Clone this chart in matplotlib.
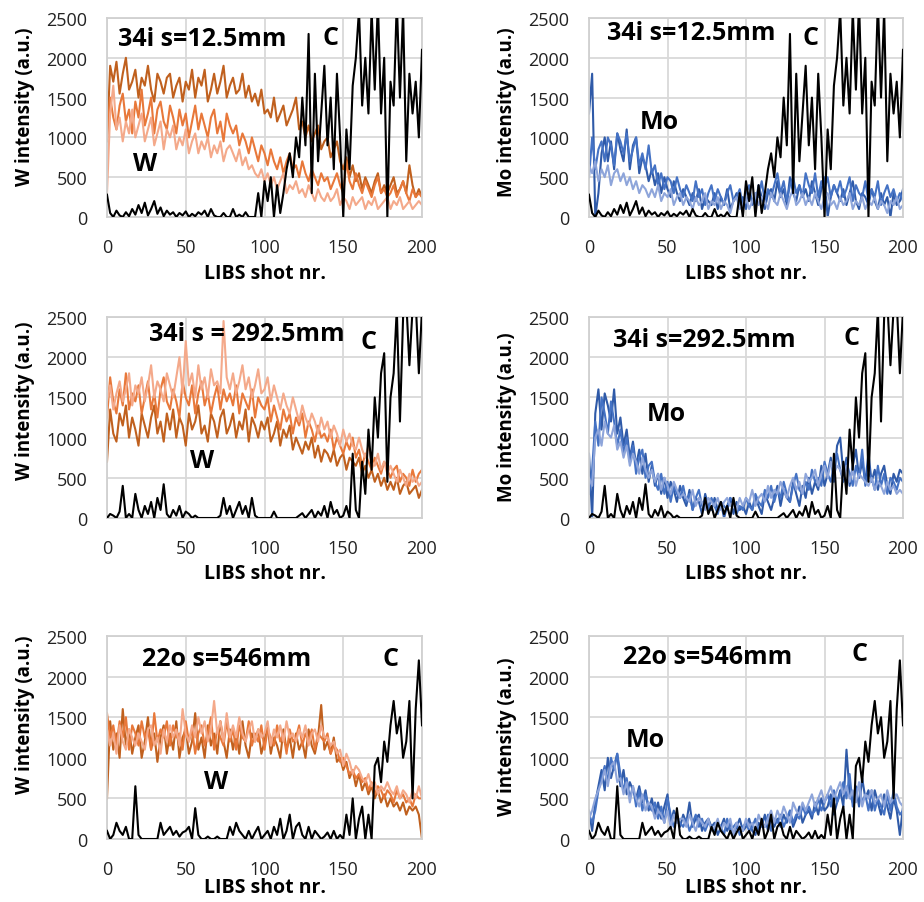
import matplotlib
matplotlib.use("Agg")
import matplotlib.pyplot as plt

plt.rcParams['font.family'] = ['Open Sans', 'DejaVu Sans']

# LIBS shot numbers (every 2nd shot sampled)
shots = list(range(0, 201, 2))

# ---------------- Row 1: 34i s=12.5mm ----------------
tl_w_dark = [950,1900,1700,1950,1550,1800,2000,1600,1700,1850,
             1500,1750,1650,1900,1600,1450,1800,1700,1550,1750,
             1800,1500,1650,1750,1450,1700,1600,1850,1500,1750,
             1650,1850,1450,1600,1800,1550,1700,1900,1500,1650,
             1750,1550,1600,1800,1500,1650,1450,1550,1400,1600,
             1300,1350,1250,1500,1200,1300,1400,1150,1250,1350,
             1500,1100,1200,1000,1150,950,1050,1150,850,950,
             1000,750,850,950,700,600,750,500,650,450,
             550,350,500,400,300,450,550,300,400,300,
             400,500,300,350,450,300,650,400,250,350,
             250]
tl_w_mid = [1000,1500,1250,1100,1400,1550,1200,1350,1050,1450,
            1250,1600,1150,1300,1500,1050,1350,1450,1200,1100,
            1400,1250,1050,1350,1150,1300,1000,1200,1400,1100,
            1300,1150,1000,1250,1350,1050,1200,950,1300,1150,
            1050,1150,900,1050,950,800,1000,850,700,900,
            800,650,850,700,600,750,550,700,800,600,
            650,500,700,550,450,600,500,400,550,450,
            500,350,450,550,400,300,700,450,350,550,
            400,300,450,350,250,400,500,300,350,250,
            300,400,250,350,450,300,200,350,250,300,
            250]
tl_w_light = [300,1300,1650,1100,1250,950,1200,1050,1350,1000,
              1150,1300,950,1100,1250,900,1050,1200,850,1100,
              1000,1150,850,1000,900,1100,800,950,1050,800,
              950,850,1000,750,900,800,950,700,850,900,
              800,700,850,650,750,600,650,550,500,600,
              450,550,400,500,350,450,550,300,400,350,
              450,300,350,250,400,300,200,350,250,200,
              300,200,250,350,150,250,200,100,250,150,
              200,250,100,200,150,250,100,150,200,250,
              100,200,150,250,100,150,200,100,150,200,
              150]
row1_c = [280,50,0,80,20,0,60,10,100,30,
          150,50,180,20,100,200,40,120,10,80,
          30,60,0,50,20,70,0,40,10,60,
          30,80,0,100,20,0,0,50,0,0,
          100,0,30,0,60,0,0,0,300,0,
          450,200,500,0,400,50,300,600,800,500,
          1000,750,1500,900,2300,300,1800,700,1300,1900,
          900,1500,600,1800,1000,0,1100,600,1650,2000,
          2600,1400,2000,1300,2600,1600,2700,1300,2000,0,
          1700,1400,2700,1500,2600,700,1800,1300,1700,1000,
          2100]
tr_mo_dark = [1300,1800,0,300,800,1000,700,950,600,1050,
              850,700,1100,600,900,1000,550,750,650,450,
              600,400,550,300,500,350,250,450,300,200,
              350,250,150,300,200,350,100,250,200,150,
              300,100,250,150,350,100,200,300,150,250,
              100,300,200,150,400,250,100,300,350,200,
              450,250,350,150,500,300,200,400,250,350,
              200,450,300,150,350,500,0,250,400,300,
              200,350,150,300,450,200,100,300,250,150,
              350,200,100,300,150,250,0,300,150,200,
              350]
tr_mo_mid = [500,1000,600,850,950,700,1000,900,650,1050,
             950,800,1050,700,850,1000,650,800,600,900,
             550,650,400,550,350,500,450,300,500,350,
             250,400,300,200,450,250,350,150,300,400,
             200,350,250,150,300,400,200,250,350,150,
             300,400,150,300,250,450,200,350,250,400,
             550,300,450,200,400,500,300,400,250,550,
             400,300,550,250,450,350,500,250,400,300,
             450,250,350,500,200,400,300,250,450,200,
             350,250,450,150,300,400,250,350,200,300,
             200]
tr_mo_light = [650,550,700,450,600,500,650,400,550,600,
               450,550,400,500,350,450,300,400,350,250,
               350,250,400,200,300,250,350,150,250,300,
               150,250,200,100,250,150,200,300,100,200,
               150,250,100,200,150,50,200,250,100,150,
               250,100,200,300,150,250,200,100,300,200,
               150,300,200,100,250,350,150,200,300,150,
               250,150,300,200,100,250,300,150,200,100,
               250,150,200,300,100,200,150,250,100,200,
               150,250,100,200,150,50,200,150,250,100,
               150]

# ---------------- Row 2: 34i s=292.5mm ----------------
ml_w_dark = [700,1350,1050,950,1300,1150,1400,1000,1250,1100,
             900,1300,1150,1000,1250,1400,1050,1200,950,1300,
             1100,1350,1000,1250,1150,900,1300,1100,1200,1400,
             1050,1150,950,1300,1200,1000,1250,1350,1050,1150,
             1300,1000,1200,1100,1350,950,1250,1150,1000,1200,
             1100,1250,950,1050,1200,900,1100,1000,1150,850,
             1000,900,800,950,850,1000,750,900,700,850,
             800,700,850,650,750,800,600,750,700,650,
             750,550,650,500,600,450,550,400,500,350,
             450,350,500,300,400,450,300,350,400,250,
             350]
ml_w_mid = [1250,1750,1450,1300,1600,1400,1800,1350,1550,1450,
            1650,1300,1500,1700,1350,1550,1250,1600,1750,1450,
            1350,1600,1450,1250,1700,1500,1400,1650,1300,1550,
            1700,1400,1550,1300,1500,1650,1350,1600,1450,1550,
            1400,1650,1300,1550,1450,1350,1600,1250,1500,1400,
            1350,1500,1200,1400,1250,1100,1350,1200,1300,1050,
            1250,1150,1300,1000,1200,1100,950,1150,1000,1050,
            950,1100,850,1000,900,800,950,850,1000,750,
            850,650,800,700,600,750,650,550,700,600,
            500,600,650,450,550,500,400,600,450,550,
            600]
ml_w_light = [1450,1650,1350,1550,1700,1450,1600,1800,1400,1650,
              1550,1750,1450,1650,1900,1500,1700,1600,1450,1800,
              1650,1500,1750,2000,1550,2200,1650,1800,1500,1900,
              1600,1750,1500,1850,1650,1700,1550,2450,1750,1600,
              1800,1550,1700,1900,1600,1750,1500,1650,1850,1550,
              1600,1750,1450,1650,1500,1350,1550,1400,1300,1500,
              1350,1200,1400,1250,1150,1300,1200,1050,1250,1100,
              1200,1000,1150,1050,900,1100,950,1050,900,850,
              1000,850,750,900,700,650,800,600,700,550,
              650,550,450,600,500,400,550,450,500,400,
              450]
row2_c = [0,50,30,0,80,400,0,50,0,300,
          100,0,150,50,200,0,250,100,420,50,
          0,100,30,150,0,80,50,0,30,0,
          0,0,0,0,0,0,30,250,50,150,
          0,100,200,50,150,0,250,30,0,0,
          0,0,0,80,0,0,0,0,0,0,
          0,30,60,0,50,100,0,80,30,150,
          0,200,50,100,0,30,150,0,800,100,
          0,700,300,1100,600,1500,1000,1800,2050,450,
          1500,1800,2600,1200,2500,2700,1900,2600,2700,1800,
          2600]
mr_mo_dark = [800,0,1300,1600,1100,1550,1400,1200,1600,1050,
              1250,900,1100,750,950,650,850,550,800,450,
              650,400,550,300,500,250,450,350,200,400,
              250,150,350,100,250,200,50,300,150,100,
              250,100,200,0,150,250,50,200,100,150,
              50,200,100,250,150,50,300,200,100,250,
              400,150,350,250,200,450,300,150,400,250,
              500,300,450,350,650,400,550,750,450,900,
              1000,550,750,400,650,850,500,700,450,800,
              450,600,350,550,650,400,300,550,450,600,
              550]
mr_mo_mid = [300,600,1200,900,1500,1300,1050,1450,1200,900,
             1100,800,1000,700,900,550,750,850,500,650,
             700,450,350,550,300,450,200,400,300,250,
             400,200,300,100,250,350,150,200,100,250,
             150,50,200,150,100,250,200,50,150,100,
             250,150,100,300,200,150,350,250,400,200,
             350,250,450,300,200,400,550,350,300,450,
             350,600,450,500,400,700,550,450,650,800,
             600,450,700,550,400,650,500,850,400,550,
             500,350,650,400,550,300,500,450,350,500,
             450]
mr_mo_light = [500,400,1000,1100,900,1200,1050,1000,1150,850,
               950,750,900,650,800,700,550,750,600,500,
               600,450,550,350,500,400,300,450,350,250,
               300,250,200,350,150,250,200,100,250,200,
               150,250,100,200,250,150,200,100,250,150,
               250,200,350,150,250,300,200,400,250,350,
               300,450,350,250,400,500,350,450,300,550,
               450,500,600,400,550,650,500,700,550,650,
               600,500,650,450,600,400,550,500,450,400,
               500,350,450,400,300,450,350,400,300,350,
               300]

# ---------------- Row 3: 22o s=546mm ----------------
bl_w_dark = [500,1450,1100,1300,1000,1600,1150,1350,1050,1250,
             1400,1000,1200,1500,1100,1300,950,1250,1400,1050,
             1300,1100,1450,1000,1250,1350,1050,1200,1550,1100,
             1250,1000,1400,1150,1300,1050,1450,1200,1000,1350,
             1100,1300,1050,1450,1150,1000,1300,1200,1350,1050,
             1200,1400,1050,1250,1150,1000,1350,1100,1250,1000,
             1300,1100,1200,1000,1350,1150,1050,1250,1650,1100,
             1200,1050,1250,950,1000,850,950,750,850,650,
             800,600,700,550,650,500,600,450,550,400,
             500,400,450,350,450,300,400,350,400,300,
             0]
bl_w_mid = [1550,1250,1400,1150,1450,1250,1500,1100,1400,1300,
            1150,1450,1250,1350,1100,1550,1200,1350,1250,1450,
            1150,1400,1250,1300,1100,1450,1200,1350,1050,1300,
            1400,1150,1300,1500,1100,1350,1250,1150,1450,1200,
            1350,1100,1400,1250,1200,1450,1150,1300,1200,1400,
            1100,1350,1250,1150,1400,1200,1300,1050,1350,1200,
            1250,1400,1150,1300,1200,1350,1100,1300,1250,1200,
            1300,1050,1150,1100,950,1000,900,800,850,750,
            800,700,750,600,700,550,650,600,500,600,
            550,450,600,500,550,450,500,400,550,500,
            500]
bl_w_light = [1350,1150,1300,1050,1400,1200,1100,1350,1250,1150,
              1300,1200,1100,1350,1400,1150,1250,1050,1350,1200,
              1400,1250,1350,1150,1600,1300,1200,1400,1250,1500,
              1300,1450,1200,1350,1700,1300,1450,1200,1550,1250,
              1400,1250,1500,1300,1200,1350,1450,1200,1350,1250,
              1300,1450,1150,1350,1250,1400,1200,1450,1250,1300,
              1200,1350,1250,1400,1150,1300,1350,1200,1400,1250,
              1250,1150,1200,1050,1100,900,1050,950,800,900,
              850,750,700,800,650,700,550,650,600,700,
              600,550,650,500,600,550,450,600,500,650,
              500]
row3_c = [100,0,50,200,100,50,150,0,0,650,
          50,0,0,0,0,0,0,200,50,100,
          150,50,100,30,80,100,150,0,380,50,
          0,0,30,0,0,30,0,0,0,150,
          50,200,100,50,0,100,0,80,150,0,
          50,100,0,150,50,250,0,100,300,0,
          150,200,50,0,150,0,100,50,0,30,
          80,0,100,0,50,0,300,50,500,0,
          250,400,0,300,0,900,1000,700,1200,950,
          1400,1700,1300,1500,1000,1200,1700,500,1600,2200,
          1400]
br_mo_dark = [350,100,450,650,850,600,1000,750,900,1050,
              650,850,550,700,600,500,650,450,600,350,
              500,300,450,250,400,550,200,350,250,150,
              300,200,450,150,250,300,100,200,250,150,
              200,50,150,250,100,200,50,150,250,100,
              150,250,100,50,200,150,300,100,250,150,
              250,150,300,200,350,150,250,400,200,300,
              350,250,450,300,500,350,400,550,300,450,
              600,400,1100,550,450,650,400,750,500,600,
              350,600,450,300,550,400,250,500,350,50,
              400]
br_mo_mid = [300,200,350,600,750,900,700,1000,850,1050,
             800,600,750,500,650,400,600,350,550,400,
             350,450,250,400,200,500,300,150,250,200,
             150,250,100,200,300,150,250,100,200,150,
             100,200,150,50,250,100,150,200,50,150,
             200,100,150,250,100,200,150,300,100,250,
             200,300,150,250,350,200,300,250,400,300,
             400,300,350,500,350,450,550,400,600,450,
             550,700,500,800,400,600,650,450,550,350,
             600,350,500,400,300,550,350,600,400,300,
             350]
br_mo_light = [250,350,500,600,700,850,650,900,950,700,
               750,550,700,450,650,500,400,550,350,450,
               400,250,350,300,200,350,150,300,200,250,
               250,150,300,200,100,250,200,150,250,100,
               150,250,100,200,150,250,50,200,150,100,
               250,150,200,100,300,200,150,250,350,200,
               350,250,400,300,200,450,350,300,450,350,
               450,550,400,500,600,450,550,650,500,600,
               700,550,650,500,600,450,700,400,550,500,
               600,450,500,550,400,600,450,500,550,450,
               400]

x_ticks = [0, 50, 100, 150, 200]
y_ticks = [0, 500, 1000, 1500, 2000, 2500]

ORANGES = ['#C0601E', '#E8783A', '#F4A98A']
BLUES = ['#2F5AA8', '#4472C4', '#8EA5DA']

FIG_W, FIG_H = 924, 903
fig = plt.figure(figsize=(FIG_W / 100, FIG_H / 100), dpi=100)

col_px = [(107, 315), (589, 314)]
row_px = [(19, 218), (318, 519), (637, 840)]
xlab_off = [56, 55, 48]

panels = [
    dict(r=0, c=0, series=[tl_w_dark, tl_w_mid, tl_w_light], cols=ORANGES, cdata=row1_c,
         ylabel='W intensity (a.u.)', ly=0.56, title='34i s=12.5mm', tpos=(7, 2240),
         cpos=(137, 2260), lab='W', lpos=(16.5, 666)),
    dict(r=0, c=1, series=[tr_mo_dark, tr_mo_mid, tr_mo_light], cols=BLUES, cdata=row1_c,
         ylabel='Mo intensity (a.u.)', ly=0.53, title='34i s=12.5mm', tpos=(11.5, 2324),
         cpos=(136, 2250), lab='Mo', lpos=(32.5, 1206)),
    dict(r=1, c=0, series=[ml_w_dark, ml_w_mid, ml_w_light], cols=ORANGES, cdata=row2_c,
         ylabel='W intensity (a.u.)', ly=0.59, title='34i s = 292.5mm', tpos=(26.7, 2300),
         cpos=(161, 2200), lab='W', lpos=(53, 709)),
    dict(r=1, c=1, series=[mr_mo_dark, mr_mo_mid, mr_mo_light], cols=BLUES, cdata=row2_c,
         ylabel='Mo intensity (a.u.)', ly=0.505, title='34i s=292.5mm', tpos=(15.3, 2222),
         cpos=(162, 2247), lab='Mo', lpos=(37, 1300)),
    dict(r=2, c=0, series=[bl_w_dark, bl_w_mid, bl_w_light], cols=ORANGES, cdata=row3_c,
         ylabel='W intensity (a.u.)', ly=0.615, title='22o s=546mm', tpos=(22, 2217),
         cpos=(175, 2217), lab='W', lpos=(61.6, 714)),
    dict(r=2, c=1, series=[br_mo_dark, br_mo_mid, br_mo_light], cols=BLUES, cdata=row3_c,
         ylabel='W intensity (a.u.)', ly=0.51, title='22o s=546mm', tpos=(21.7, 2249),
         cpos=(167, 2286), lab='Mo', lpos=(23.6, 1231)),
]

for p in panels:
    top, bot = row_px[p['r']]
    left, wpx = col_px[p['c']]
    hpx = bot - top
    ax = fig.add_axes([left / FIG_W, 1 - bot / FIG_H, wpx / FIG_W, hpx / FIG_H])
    for s, col in zip(p['series'], p['cols']):
        ax.plot(shots, s, color=col, lw=1.5, zorder=2)
    ax.plot(shots, p['cdata'], color='black', lw=1.5, zorder=3)
    ax.set_xlim(0, 200)
    ax.set_ylim(0, 2500)
    ax.set_xticks(x_ticks)
    ax.set_yticks(y_ticks)
    ax.tick_params(length=0, labelsize=13, colors='#222222')
    ax.tick_params(axis='x', pad=15)
    ax.tick_params(axis='y', pad=14)
    ax.grid(True, color='#D9D9D9', lw=1.3)
    ax.set_axisbelow(True)
    for sp in ax.spines.values():
        sp.set_color('#D0D0D0')
        sp.set_linewidth(1.3)
    ax.set_xlabel('LIBS shot nr.', fontsize=14, fontweight='bold')
    ax.xaxis.label.set_va('center')
    ax.xaxis.set_label_coords(0.5, -xlab_off[p['r']] / hpx)
    ax.set_ylabel(p['ylabel'], fontsize=13.5, fontweight='bold')
    ax.yaxis.label.set_va('center')
    ax.yaxis.set_label_coords(-82 / wpx, p['ly'])
    ax.text(p['tpos'][0], p['tpos'][1], p['title'], fontsize=18, fontweight='bold',
            ha='left', va='center', zorder=5)
    ax.text(p['cpos'][0], p['cpos'][1], 'C', fontsize=18, fontweight='bold',
            ha='left', va='center', zorder=5)
    ax.text(p['lpos'][0], p['lpos'][1], p['lab'], fontsize=18, fontweight='bold',
            ha='left', va='center', zorder=5)

fig.savefig('out.png', dpi=100)
